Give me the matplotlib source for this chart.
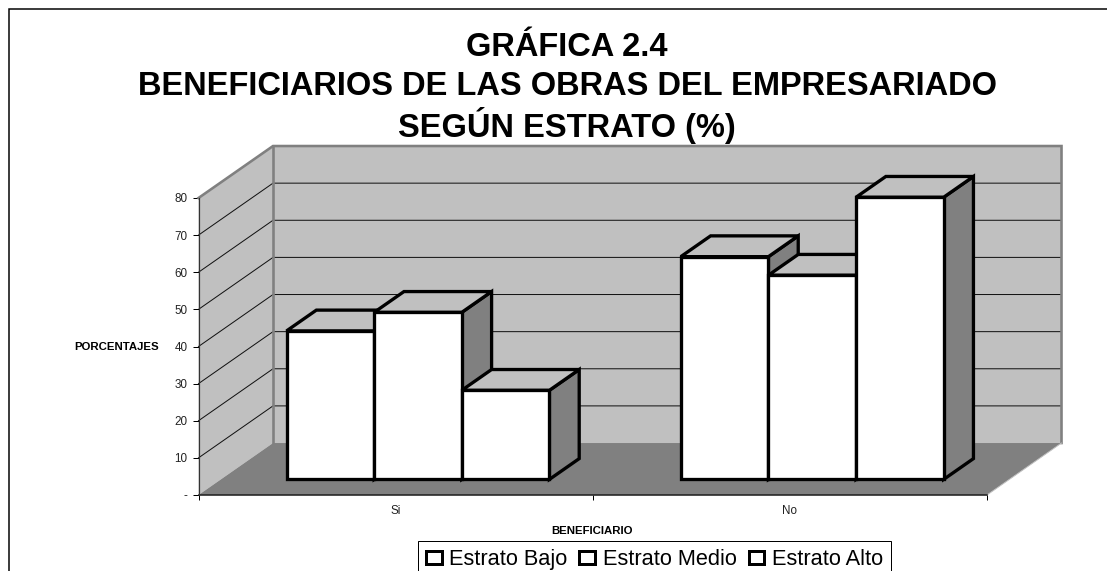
import matplotlib
matplotlib.use("Agg")
import matplotlib.pyplot as plt
from matplotlib.patches import Polygon, Patch
from matplotlib.lines import Line2D

categories = ["Si", "No"]
estrato_bajo = [40, 60]
estrato_medio = [45, 55]
estrato_alto = [24, 76]
series_names = ["Estrato Bajo", "Estrato Medio", "Estrato Alto"]
series = [estrato_bajo, estrato_medio, estrato_alto]
y_ticks = [0, 10, 20, 30, 40, 50, 60, 70, 80]
y_labels = ["-", "10", "20", "30", "40", "50", "60", "70", "80"]
title_lines = ["GRÁFICA 2.4", "BENEFICIARIOS DE LAS OBRAS DEL EMPRESARIADO", "SEGÚN ESTRATO (%)"]

W, H = 1107, 571
plt.rcParams["font.family"] = ["Liberation Sans", "DejaVu Sans"]
fig = plt.figure(figsize=(W / 100, H / 100), dpi=100, facecolor="white")
px = 0.72  # one pixel in points

# outer frame: only the top and left edges fall inside the picture
fig.add_artist(Line2D([8.5 / W, 8.5 / W, 1], [0, 1 - 8.5 / H, 1 - 8.5 / H], transform=fig.transFigure,
                      color="black", lw=1.5 * px, solid_joinstyle="miter"))

ax = fig.add_axes([198.5 / W, 1 - 495 / H, 788.5 / W, 297 / H])
ax.set_xlim(0, 2)
ax.set_ylim(0, 80)
ax.set_facecolor("none")
for s in ax.spines.values():
    s.set_visible(False)

DX, DY = 0.189, 14.0  # oblique offset of the full depth, in data units


def proj(x, v, d):
    return (x + d * DX, v + d * DY)


def poly(points, fc, ec="none", lw=0, z=1):
    ax.add_patch(Polygon(points, closed=True, fc=fc, ec=ec, lw=lw, zorder=z,
                         clip_on=False, joinstyle="miter"))


ymax = y_ticks[-1]
# walls and floor
poly([proj(0, 0, 1), proj(2, 0, 1), proj(2, ymax, 1), proj(0, ymax, 1)], "#C0C0C0", z=1)
poly([proj(0, 0, 0), proj(0, 0, 1), proj(0, ymax, 1), proj(0, ymax, 0)], "#C0C0C0", z=1)
poly([proj(0, 0, 0), proj(2, 0, 0), proj(2, 0, 1), proj(0, 0, 1)], "#808080", z=1.2)

# gridlines
for v in y_ticks[1:-1]:
    pts = [proj(0, v, 0), proj(0, v, 1), proj(2, v, 1)]
    ax.plot(*zip(*pts), color="#111111", lw=1.0 * px, zorder=1.5, clip_on=False)

# wall borders
border = [proj(0, ymax, 0), proj(0, ymax, 1), proj(2, ymax, 1), proj(2, 0, 1)]
ax.plot(*zip(*border), color="#808080", lw=2.6 * px, zorder=1.6, clip_on=False,
        solid_joinstyle="miter")
ax.plot(*zip(proj(0, 0, 1), proj(0, ymax, 1)), color="#808080", lw=2.6 * px, zorder=1.6, clip_on=False)
ax.plot(*zip(proj(2, 0, 1), proj(2, 0, 0)), color="#C0C0C0", lw=1 * px, zorder=1.6, clip_on=False)

# bars
bar_w = 2 / 9
d0, d1 = 0.30, 0.70
z = 2.0
for c in range(len(categories)):
    x_start = c + 0.5 - 1.5 * bar_w
    for i, vals in enumerate(series):
        x0, x1 = x_start + i * bar_w, x_start + (i + 1) * bar_w
        v = vals[c]
        kw = dict(ec="black", lw=3.3 * px, z=z)
        poly([proj(x1, 0, d0), proj(x1, 0, d1), proj(x1, v, d1), proj(x1, v, d0)], "#808080", **kw)
        poly([proj(x0, v, d0), proj(x1, v, d0), proj(x1, v, d1), proj(x0, v, d1)], "#C0C0C0", **kw)
        poly([proj(x0, 0, d0), proj(x1, 0, d0), proj(x1, v, d0), proj(x0, v, d0)], "white", **kw)
        z += 0.1

# front axes
ax.plot([0, 2], [0, 0], color="#222222", lw=1.6 * px, zorder=1.7, clip_on=False)
ax.plot([0, 0], [0, ymax], color="#333333", lw=1.2 * px, zorder=1.7, clip_on=False)

ax.set_yticks(y_ticks, y_labels, fontsize=8.4, color="#222222")
ax.tick_params(axis="y", length=6 * px, width=1 * px, pad=3.5)
ax.set_xticks([0, 1, 2], ["", "", ""])
ax.set_xticks([0.5, 1.5], categories, minor=True, fontsize=8.4, color="#222222")
ax.tick_params(axis="x", which="major", length=5 * px, width=1 * px)
ax.tick_params(axis="x", which="minor", length=0, pad=7)

ax.set_ylabel("PORCENTAJES", rotation=0, fontsize=8.2, fontweight="bold", ha="center", va="center")
ax.yaxis.set_label_coords((117 - 198.5) / 788.5, 0.5)
ax.set_xlabel("BENEFICIARIO", fontsize=8.2, fontweight="bold", ha="center", va="center")
ax.xaxis.set_label_coords((592 - 198.5) / 788.5, (495 - 531) / 297)

for line, yy in zip(title_lines, [55.5, 95, 137]):
    fig.text(567 / W, 1 - yy / H, line, ha="center", va="baseline", fontsize=23.5, fontweight="bold")

handles = [Patch(fc="white", ec="black", lw=3 * px) for _ in series_names]
leg = fig.legend(handles, series_names, ncol=3, loc="upper left",
                 bbox_to_anchor=(418 / W, 1 - 541 / H), frameon=True, fancybox=False,
                 edgecolor="black", framealpha=1, fontsize=15.7,
                 handlelength=0.72, handleheight=0.55, handletextpad=0.34,
                 columnspacing=0.56, borderpad=0.36, borderaxespad=0)
leg.get_frame().set_linewidth(1 * px)

fig.savefig("out.png", dpi=100)
